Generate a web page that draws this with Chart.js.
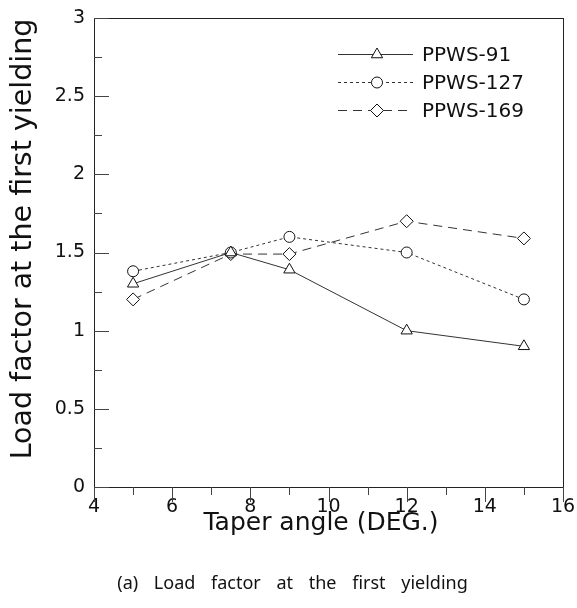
<!DOCTYPE html>
<html>
<head>
<meta charset="utf-8">
<script src="https://cdn.jsdelivr.net/npm/chart.js@4.4.1/dist/chart.umd.min.js"></script>
<style>
  html, body { margin: 0; padding: 0; background: #fff; }
  #wrap { position: relative; width: 577px; height: 608px; }
  #caption {
    position: absolute; left: 4px; width: 577px; top: 570px;
    text-align: center; font-family: 'Noto Sans', sans-serif; font-size: 18px;
    word-spacing: 11px; color: #111;
  }
</style>
</head>
<body>
<div id="wrap">
  <canvas id="c" width="577" height="608"></canvas>
  <div id="caption">(a) Load factor at the first yielding</div>
</div>
<script>
// ── Data ───────────────────────────────────────────────────
const taperAngles = [5, 7.5, 9, 12, 15];
const ppws91  = [1.3, 1.5, 1.39, 1.0, 0.9];
const ppws127 = [1.38, 1.5, 1.6, 1.5, 1.2];
const ppws169 = [1.2, 1.49, 1.49, 1.7, 1.59];
const seriesNames = ['PPWS-91', 'PPWS-127', 'PPWS-169'];
const xTicks = [4, 6, 8, 10, 12, 14, 16];
const yTicks = [0, 0.5, 1, 1.5, 2, 2.5, 3];
const xTitle = 'Taper angle (DEG.)';
const yTitle = 'Load factor at the first yielding';

const FONT = "'DejaVu Sans', sans-serif";
const INK = '#222';

const styles = [
  { dash: [],     marker: 'triangle', radius: 6.5 },
  { dash: [3, 3], marker: 'circle',   radius: 5.5 },
  { dash: [9, 6], marker: 'rectRot',  radius: 6.5 },
];

const pts = vals => taperAngles.map((x, i) => ({ x, y: vals[i] }));

const datasets = [ppws91, ppws127, ppws169].map((vals, i) => ({
  label: seriesNames[i],
  data: pts(vals),
  borderColor: '#333',
  borderWidth: 1,
  borderDash: styles[i].dash,
  pointStyle: styles[i].marker,
  pointRadius: styles[i].radius,
  pointBackgroundColor: '#fff',
  pointBorderColor: '#111',
  pointBorderWidth: 1,
  tension: 0,
  fill: false,
}));

// ── Frame, tick marks, titles and legend ───────────────────
const framePlugin = {
  id: 'frame',
  afterDraw(chart) {
    const { ctx, chartArea: a, scales: { x, y } } = chart;
    ctx.save();
    ctx.strokeStyle = INK;
    ctx.lineWidth = 1;
    ctx.strokeRect(Math.round(a.left) + 0.5, Math.round(a.top) + 0.5,
                   Math.round(a.right - a.left), Math.round(a.bottom - a.top));

    ctx.strokeStyle = '#444';
    ctx.beginPath();
    // x ticks point down, out of the box
    for (let v = 4; v <= 16; v += 1) {
      const px = Math.round(x.getPixelForValue(v)) + 0.5;
      const len = v % 2 === 0 ? 15 : 8;
      ctx.moveTo(px, a.bottom);
      ctx.lineTo(px, a.bottom + len);
    }
    // y ticks point right, into the box
    for (let v = 0; v <= 3.001; v += 0.25) {
      const py = Math.round(y.getPixelForValue(v)) + 0.5;
      const len = Math.abs(v * 2 - Math.round(v * 2)) < 1e-6 ? 15 : 8;
      ctx.moveTo(a.left, py);
      ctx.lineTo(a.left + len, py);
    }
    ctx.stroke();

    // axis titles
    ctx.fillStyle = '#111';
    ctx.textAlign = 'center';
    ctx.textBaseline = 'middle';
    ctx.font = `25px ${FONT}`;
    ctx.fillText(xTitle, 321, 523);
    ctx.save();
    ctx.translate(24, 239);
    ctx.rotate(-Math.PI / 2);
    ctx.font = `28.5px ${FONT}`;
    ctx.fillText(yTitle, 0, 0);
    ctx.restore();

    // legend
    const lx0 = 338, lx1 = 413, mx = 377, tx = 422;
    const rows = [54, 82, 110];
    ctx.textAlign = 'left';
    chart.data.datasets.forEach((ds, i) => {
      const ly = rows[i] + 0.5;
      ctx.strokeStyle = '#333';
      ctx.setLineDash(ds.borderDash);
      ctx.beginPath();
      ctx.moveTo(lx0, ly);
      ctx.lineTo(lx1, ly);
      ctx.stroke();
      ctx.setLineDash([]);
      ctx.fillStyle = '#fff';
      ctx.strokeStyle = '#111';
      Chart.helpers.drawPoint(ctx, { pointStyle: ds.pointStyle, radius: ds.pointRadius, borderWidth: 1 }, mx, ly);
      ctx.fillStyle = '#111';
      ctx.font = `20px ${FONT}`;
      ctx.fillText(ds.label, tx, ly + 1);
    });
    ctx.restore();
  }
};

new Chart(document.getElementById('c'), {
  type: 'line',
  data: { datasets },
  plugins: [framePlugin],
  options: {
    responsive: false,
    animation: false,
    layout: { padding: { top: 18, right: 14, bottom: 63, left: 0 } },
    plugins: { legend: { display: false }, tooltip: { enabled: false } },
    scales: {
      x: {
        type: 'linear', min: 4, max: 16,
        afterBuildTicks: s => { s.ticks = xTicks.map(v => ({ value: v })); },
        afterFit: s => { s.height = 58; s.paddingLeft = 0; s.paddingRight = 0; },
        grid: { display: false, drawTicks: false },
        border: { display: false },
        ticks: { color: '#111', padding: 9, maxRotation: 0, font: { family: FONT, size: 19 },
                 callback: v => String(v) },
      },
      y: {
        type: 'linear', min: 0, max: 3,
        afterBuildTicks: s => { s.ticks = yTicks.map(v => ({ value: v })); },
        afterFit: s => { s.width = 94; s.paddingTop = 0; s.paddingBottom = 0; },
        grid: { display: false, drawTicks: false },
        border: { display: false },
        ticks: { color: '#111', padding: 9, font: { family: FONT, size: 19 },
                 callback: v => String(v) },
      },
    },
  },
});
</script>
</body>
</html>
